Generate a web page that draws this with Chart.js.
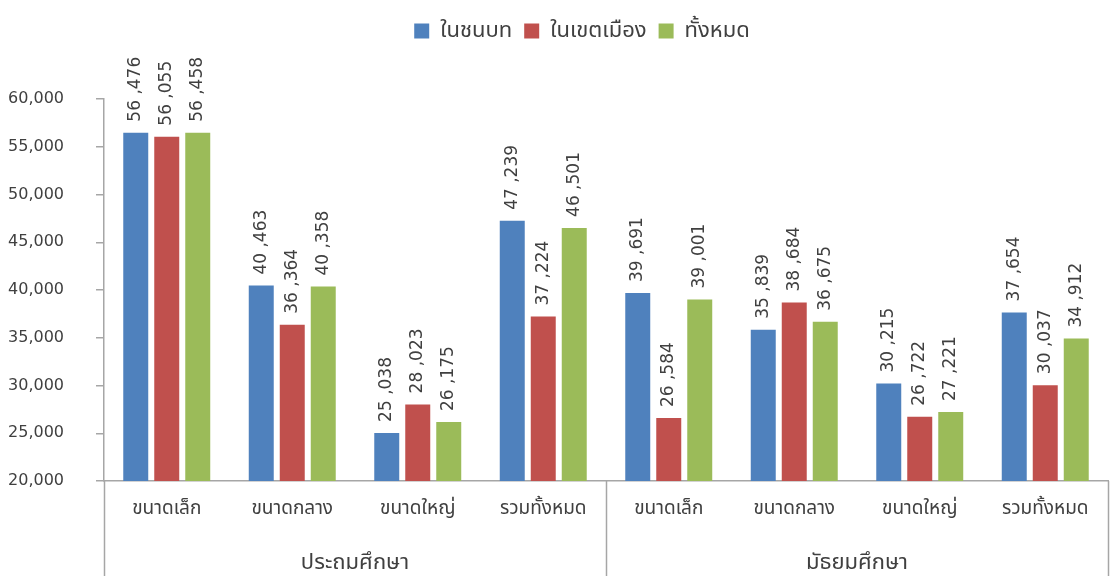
<!DOCTYPE html>
<html><head><meta charset="utf-8">
<script src="https://cdn.jsdelivr.net/npm/chart.js@4/dist/chart.umd.min.js"></script>
<style>html,body{margin:0;padding:0;background:#fff}canvas{display:block}</style>
</head><body>
<canvas id="c" width="1110" height="576"></canvas>
<script>
const categories = ['ขนาดเล็ก','ขนาดกลาง','ขนาดใหญ่','รวมทั้งหมด','ขนาดเล็ก','ขนาดกลาง','ขนาดใหญ่','รวมทั้งหมด'];
const groups = ['ประถมศึกษา','มัธยมศึกษา'];
const seriesNames = ['ในชนบท','ในเขตเมือง','ทั้งหมด'];
const rural = [56476, 40463, 25038, 47239, 39691, 35839, 30215, 37654];
const urban = [56055, 36364, 28023, 37224, 26584, 38684, 26722, 30037];
const total = [56458, 40358, 26175, 46501, 39001, 36675, 27221, 34912];
const yTicks = [20000, 25000, 30000, 35000, 40000, 45000, 50000, 55000, 60000];

const FONT = "Tahoma, 'DejaVu Sans', 'Noto Sans Thai', 'Noto Sans', sans-serif";
const colors = ['#4F81BD', '#C0504D', '#9BBB59'];
const txt = '#404040';

function fmt(v){ const s = String(v); return s.slice(0, s.length-3) + ' ,' + s.slice(-3); }

const legendSpace = {
  id: 'legendSpace',
  beforeInit(chart){
    const lg = chart.legend;
    const origFit = lg.fit;
    lg.fit = function(){ origFit.call(lg); this.height += 55; };
    const origDraw = lg.draw;
    lg.draw = function(){
      chart.ctx.save(); chart.ctx.translate(28, 8);
      origDraw.call(lg);
      chart.ctx.restore();
    };
  }
};

const labelPlugin = {
  id: 'labels',
  afterDatasetsDraw(chart){
    const ctx = chart.ctx;
    ctx.save();
    ctx.font = '17px ' + FONT;
    ctx.fillStyle = txt;
    ctx.textAlign = 'left';
    ctx.textBaseline = 'middle';
    chart.data.datasets.forEach((ds, di) => {
      chart.getDatasetMeta(di).data.forEach((bar, i) => {
        ctx.save();
        ctx.translate(bar.x, bar.y - 11);
        ctx.rotate(-Math.PI/2);
        ctx.fillText(fmt(ds.data[i]), 0, 0);
        ctx.restore();
      });
    });
    ctx.restore();
  }
};

const groupPlugin = {
  id: 'groups',
  afterDraw(chart){
    const ctx = chart.ctx;
    const x = chart.scales.x;
    const area = chart.chartArea;
    const n = categories.length;
    const step = (x.right - x.left) / n;
    ctx.save();
    ctx.strokeStyle = '#A6A6A6';
    ctx.lineWidth = 1.5;
    const per = n / groups.length;
    for (let g = 0; g <= groups.length; g++){
      const px = Math.round(x.left + g*per*step) + 0.5;
      ctx.beginPath(); ctx.moveTo(px, area.bottom); ctx.lineTo(px, 576); ctx.stroke();
    }
    ctx.font = '22px ' + FONT;
    ctx.fillStyle = txt;
    ctx.textAlign = 'center';
    ctx.textBaseline = 'middle';
    groups.forEach((gname, g) => {
      const cx = x.left + (g*per + per/2)*step;
      ctx.fillText(gname, cx, 563);
    });
    ctx.restore();
  }
};

new Chart(document.getElementById('c'), {
  type: 'bar',
  data: {
    labels: categories,
    datasets: [
      {label: seriesNames[0], data: rural, backgroundColor: colors[0]},
      {label: seriesNames[1], data: urban, backgroundColor: colors[1]},
      {label: seriesNames[2], data: total, backgroundColor: colors[2]}
    ]
  },
  options: {
    responsive: false,
    animation: false,
    devicePixelRatio: 1,
    layout: {padding: {top: 0, right: 2, left: 0, bottom: 0}},
    datasets: {bar: {categoryPercentage: 0.741, barPercentage: 0.806}},
    plugins: {
      legend: {
        position: 'top',
        labels: {font: {family: FONT, size: 22}, color: txt, boxWidth: 15, boxHeight: 15, padding: 12}
      },
      tooltip: {enabled: false}
    },
    scales: {
      x: {
        grid: {display: false, drawTicks: false},
        border: {color: '#A6A6A6', width: 1.5},
        ticks: {font: {family: FONT, size: 19}, color: txt, padding: 17, maxRotation: 0, autoSkip: false},
        afterFit(s){ s.height = 95; }
      },
      y: {
        min: 20000, max: 60000,
        afterBuildTicks(s){ s.ticks = yTicks.map(v => ({value: v})); },
        grid: {display: true, drawOnChartArea: false, tickLength: 8, color: '#A6A6A6', lineWidth: 1.5},
        border: {color: '#A6A6A6', width: 1.5},
        ticks: {font: {family: FONT, size: 16}, color: txt, padding: 32,
          callback: v => v.toLocaleString('en-US')},
        afterFit(s){ s.width = 104; }
      }
    }
  },
  plugins: [legendSpace, labelPlugin, groupPlugin]
});
</script>
</body></html>
